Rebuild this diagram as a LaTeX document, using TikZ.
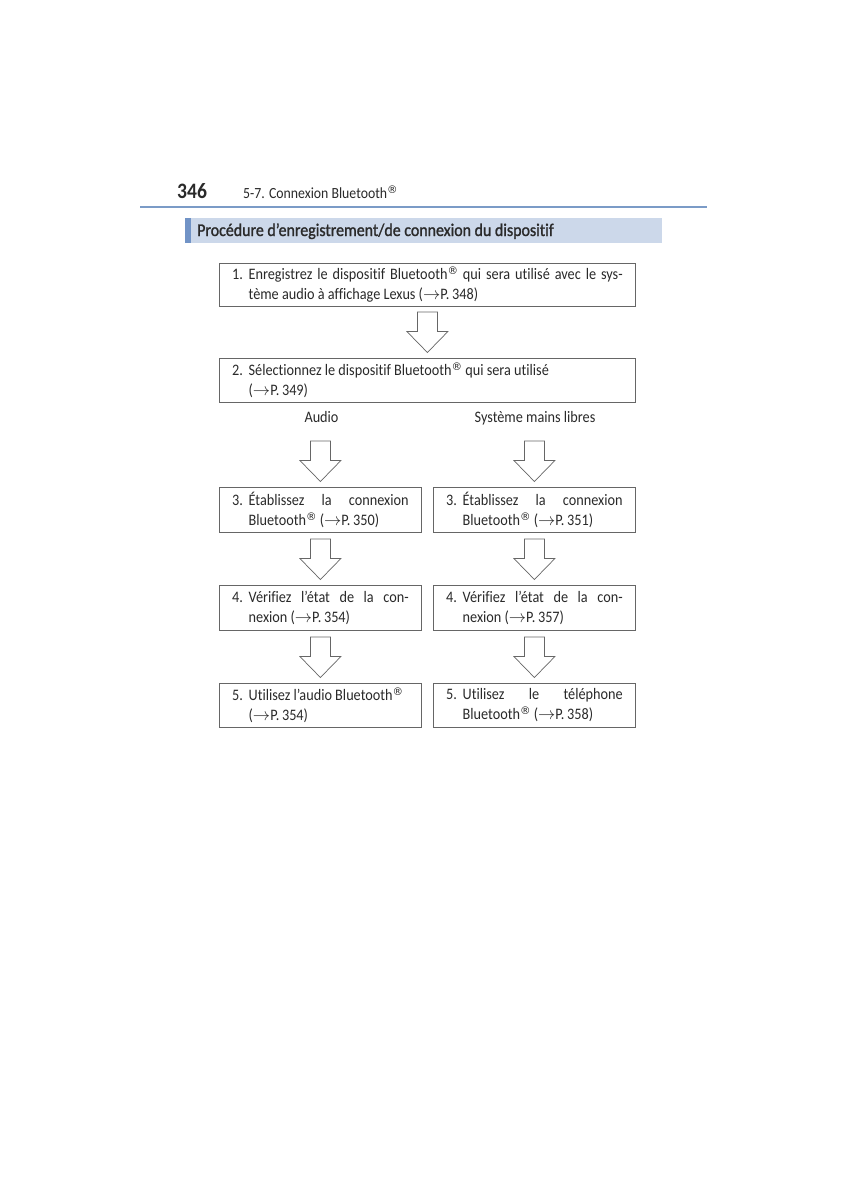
\documentclass[tikz,border=0pt]{standalone}
\usepackage{fontspec}
\setmainfont{Carlito}[FakeStretch=0.89, Ligatures=NoCommon]
\newfontfamily\headfont{Carlito}[FakeStretch=0.89, FakeBold=1.3, Ligatures=NoCommon]
\newfontfamily\symf{DejaVu Sans}
\usetikzlibrary{calc}
\definecolor{rulecol}{HTML}{7B9BC7}
\definecolor{barfill}{HTML}{CCD8EA}
\definecolor{accentcol}{HTML}{7193C6}
\definecolor{boxgray}{HTML}{666666}
\definecolor{txt}{HTML}{2A2A2A}
\newcommand\reg{\raisebox{5pt}{\symf\fontsize{10.5}{10.5}\selectfont ®}}
\newcommand\arr{$\rightarrow$}
\newcommand\jl[2]{\makebox[#1][s]{#2}}
\newcommand\numtext[3]{\makebox[16.5pt][l]{#1}\parbox[t]{#2}{#3}}
\newcommand\barrow[2]{%
  \draw[blockarrow] let \p1=(#1.south), \p2=(#2.north) in
    (\x2-10pt,\y2+46pt) -- (\x2-10pt,\y2+26.5pt) -- (\x2-20.5pt,\y2+26.5pt) --
    (\x2,\y2+5.5pt) -- (\x2+20.5pt,\y2+26.5pt) -- (\x2+10pt,\y2+26.5pt) --
    (\x2+10pt,\y2+46pt) -- cycle;}
\begin{document}
\begin{tikzpicture}[x=1pt,y=-1pt,
  every node/.style={text=txt},
  body/.style={font=\fontsize{16}{20}\selectfont},
  flowbox/.style={body, draw=boxgray, line width=0.8pt, fill=white, inner sep=0pt,
    anchor=north west, minimum height=44pt},
  widebox/.style={flowbox, minimum width=416pt},
  narrowbox/.style={flowbox, minimum width=202pt},
  blockarrow/.style={draw=boxgray, line width=0.7pt, fill=white, line join=miter},
  label/.style={body, anchor=base, inner sep=0pt}]
\useasboundingbox[fill=white] (0,0) rectangle (848,1200);
% header
\node[anchor=base west, inner sep=0pt, font=\bfseries\fontsize{22}{23}\selectfont] (pg) at (177,198) {346};
\node[anchor=base west, inner sep=0pt, font=\fontsize{15.5}{17}\selectfont] (ht) at (243,198) {5-7. Connexion Bluetooth\reg};
\draw[rulecol, line width=2pt] (140,207) -- (707,207);
% heading bar
\fill[barfill] (185,218) rectangle (662,243);
\fill[accentcol] (185,218) rectangle (191,243);
\node[anchor=base west, inner sep=0pt, font=\headfont\fontsize{17.9}{19}\selectfont] (hd) at (197,236) {Procédure d’enregistrement/de connexion du dispositif};
% boxes
\node[widebox, minimum height=43pt] (b1) at (219,263) {\numtext{1.}{374pt}{\jl{374pt}{Enregistrez le dispositif Bluetooth\reg{} qui sera utilisé avec le sys-}\\tème audio à affichage Lexus (\arr P.\,348)}};
\node[widebox] (b2) at (219,358) {\numtext{2.}{374pt}{Sélectionnez le dispositif Bluetooth\reg{} qui sera utilisé\\(\arr P.\,349)}};
\node[label] (la) at (321.5,422) {Audio};
\node[label] (lh) at (535,422) {Système mains libres};
\node[narrowbox, minimum height=45pt] (b3l) at (219,487) {\numtext{3.}{160pt}{\jl{160pt}{Établissez la connexion}\\Bluetooth\reg{} (\arr P.\,350)}};
\node[narrowbox, minimum height=45pt] (b3r) at (433,487) {\numtext{3.}{160pt}{\jl{160pt}{Établissez la connexion}\\Bluetooth\reg{} (\arr P.\,351)}};
\node[narrowbox, minimum height=45pt] (b4l) at (219,585) {\numtext{4.}{160pt}{\jl{160pt}{Vérifiez l’état de la con-}\\nexion (\arr P.\,354)}};
\node[narrowbox, minimum height=45pt] (b4r) at (433,585) {\numtext{4.}{160pt}{\jl{160pt}{Vérifiez l’état de la con-}\\nexion (\arr P.\,357)}};
\node[narrowbox] (b5l) at (219,683) {\numtext{5.}{160pt}{Utilisez l’audio Bluetooth\reg\\(\arr P.\,354)}};
\node[narrowbox] (b5r) at (433,683) {\numtext{5.}{160pt}{\jl{160pt}{Utilisez le téléphone}\\Bluetooth\reg{} (\arr P.\,358)}};
% arrows
\barrow{b1}{b2}
\barrow{la}{b3l}
\barrow{lh}{b3r}
\barrow{b3l}{b4l}
\barrow{b3r}{b4r}
\barrow{b4l}{b5l}
\barrow{b4r}{b5r}
\end{tikzpicture}
\end{document}
